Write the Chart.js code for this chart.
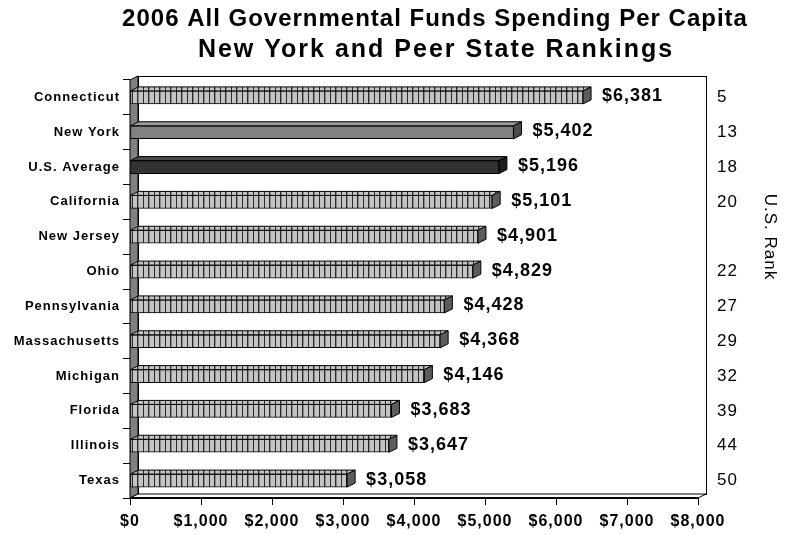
<!DOCTYPE html>
<html>
<head>
<meta charset="utf-8">
<script src="https://cdn.jsdelivr.net/npm/chart.js@4"></script>
<style>
  html, body { margin: 0; padding: 0; background: #fff; }
  #wrap { width: 787px; height: 535px; position: relative; }
</style>
</head>
<body>
<div id="wrap"><canvas id="chart"></canvas></div>
<script>
const titleLines = ["2006 All Governmental Funds Spending Per Capita", "New York and Peer State Rankings"];
const states = ["Connecticut", "New York", "U.S. Average", "California", "New Jersey", "Ohio",
  "Pennsylvania", "Massachusetts", "Michigan", "Florida", "Illinois", "Texas"];
const spending = [6381, 5402, 5196, 5101, 4901, 4829, 4428, 4368, 4146, 3683, 3647, 3058];
const usRank = [5, 13, 18, 20, null, 22, 27, 29, 32, 39, 44, 50];
const rankTitle = "U.S. Rank";

const FONT = "'Liberation Sans', Arial, sans-serif";
const DEPTH_X = 8, DEPTH_Y = -4;

const canvas = document.getElementById("chart");
const ctx = canvas.getContext("2d");

// light grey bar with thin dark vertical stripes
function stripes() {
  const c = document.createElement("canvas");
  c.width = 11; c.height = 4;
  const g = c.getContext("2d");
  g.fillStyle = "#c4c4c4";
  g.fillRect(0, 0, 11, 4);
  g.fillStyle = "#2a2a2a";
  g.fillRect(0, 0, 1, 4);
  g.fillRect(5, 0, 1, 4);
  g.fillStyle = "#8a8a8a";
  g.fillRect(6, 0, 1, 4);
  return ctx.createPattern(c, "repeat");
}
const striped = stripes();

const faceColors = states.map(s => s === "New York" ? "#828282" : s === "U.S. Average" ? "#333333" : striped);
const topColors = states.map(s => s === "New York" ? "#9a9a9a" : s === "U.S. Average" ? "#4a4a4a" : striped);
const capColors = states.map(s => s === "New York" ? "#4a4a4a" : s === "U.S. Average" ? "#1c1c1c" : "#5c5c5c");

function poly(c, pts, fill) {
  c.beginPath();
  c.moveTo(pts[0][0], pts[0][1]);
  for (let i = 1; i < pts.length; i++) c.lineTo(pts[i][0], pts[i][1]);
  c.closePath();
  if (fill) { c.fillStyle = fill; c.fill(); }
  c.stroke();
}

// walls, floor, bar depth, labels and titles
const depthPlugin = {
  id: "depth",
  beforeDraw(chart) {
    chart.ctx.letterSpacing = "1px";
  },
  beforeDatasetsDraw(chart) {
    const c = chart.ctx, a = chart.chartArea;
    c.save();
    c.strokeStyle = "#000";
    c.lineWidth = 1;
    c.strokeRect(a.left + DEPTH_X + 0.5, a.top + DEPTH_Y + 0.5, a.right - a.left, a.bottom - a.top);
    poly(c, [[a.left, a.top], [a.left + DEPTH_X, a.top + DEPTH_Y], [a.left + DEPTH_X, a.bottom + DEPTH_Y], [a.left, a.bottom]], "#808080");
    poly(c, [[a.left, a.bottom], [a.left + DEPTH_X, a.bottom + DEPTH_Y], [a.right + DEPTH_X, a.bottom + DEPTH_Y], [a.right, a.bottom]], "#ffffff");
    c.lineWidth = 2;
    c.beginPath();
    c.moveTo(a.left, a.bottom);
    c.lineTo(a.right, a.bottom);
    c.stroke();
    c.restore();
  },
  afterDatasetsDraw(chart) {
    const c = chart.ctx, a = chart.chartArea;
    const meta = chart.getDatasetMeta(0);
    const yScale = chart.scales.y;
    c.save();
    c.strokeStyle = "#000";
    c.lineWidth = 1;
    meta.data.forEach((bar, i) => {
      const p = bar.getProps(["x", "y", "base", "height"], true);
      const top = p.y - p.height / 2, bottom = p.y + p.height / 2;
      poly(c, [[p.base, top], [p.base + DEPTH_X, top + DEPTH_Y], [p.x + DEPTH_X, top + DEPTH_Y], [p.x, top]], topColors[i]);
      poly(c, [[p.x, top], [p.x + DEPTH_X, top + DEPTH_Y], [p.x + DEPTH_X, bottom + DEPTH_Y], [p.x, bottom]], capColors[i]);
    });

    // value labels
    c.letterSpacing = "1px";
    c.fillStyle = "#000";
    c.font = "bold 18px " + FONT;
    c.textBaseline = "middle";
    c.textAlign = "left";
    meta.data.forEach((bar, i) => {
      c.fillText("$" + spending[i].toLocaleString("en-US"), bar.x + 19, bar.y - 1);
    });

    // rank column
    c.font = "17px " + FONT;
    usRank.forEach((r, i) => {
      if (r === null) return;
      c.fillText(String(r), a.right + 19, yScale.getPixelForValue(i));
    });
    c.save();
    c.translate(770, (a.top + a.bottom) / 2 - 52);
    c.rotate(Math.PI / 2);
    c.textAlign = "center";
    c.fillText(rankTitle, 0, 0);
    c.restore();

    // title
    c.textAlign = "center";
    c.font = "bold 24px " + FONT;
    c.letterSpacing = "1px";
    c.fillText(titleLines[0], 435, 19);
    c.font = "bold 25px " + FONT;
    c.letterSpacing = "2px";
    c.fillText(titleLines[1], 436, 50);
    c.restore();
  }
};

new Chart(ctx, {
  type: "bar",
  data: {
    labels: states,
    datasets: [{
      data: spending,
      backgroundColor: faceColors,
      borderColor: "#000",
      borderWidth: 1,
      borderSkipped: false,
      barThickness: 13
    }]
  },
  options: {
    indexAxis: "y",
    responsive: true,
    maintainAspectRatio: false,
    animation: false,
    layout: { padding: { top: 80, right: 89, left: 0, bottom: 0 } },
    plugins: {
      legend: { display: false },
      title: { display: false },
      tooltip: { enabled: false }
    },
    scales: {
      x: {
        min: 0,
        max: 8000,
        afterFit(s) { s.height = 37; },
        ticks: {
          stepSize: 1000,
          color: "#000",
          padding: 7,
          font: { family: FONT, size: 16, weight: "bold" },
          callback: v => "$" + Number(v).toLocaleString("en-US")
        },
        grid: { drawOnChartArea: false, tickLength: 7, color: "#000" },
        border: { color: "#000" }
      },
      y: {
        afterFit(s) { s.width = 130; },
        ticks: {
          color: "#000",
          padding: 3,
          font: { family: FONT, size: 13, weight: "bold" }
        },
        grid: { offset: true, drawOnChartArea: false, tickLength: 7, color: "#000" },
        border: { color: "#000" }
      }
    }
  },
  plugins: [depthPlugin]
});
</script>
</body>
</html>
